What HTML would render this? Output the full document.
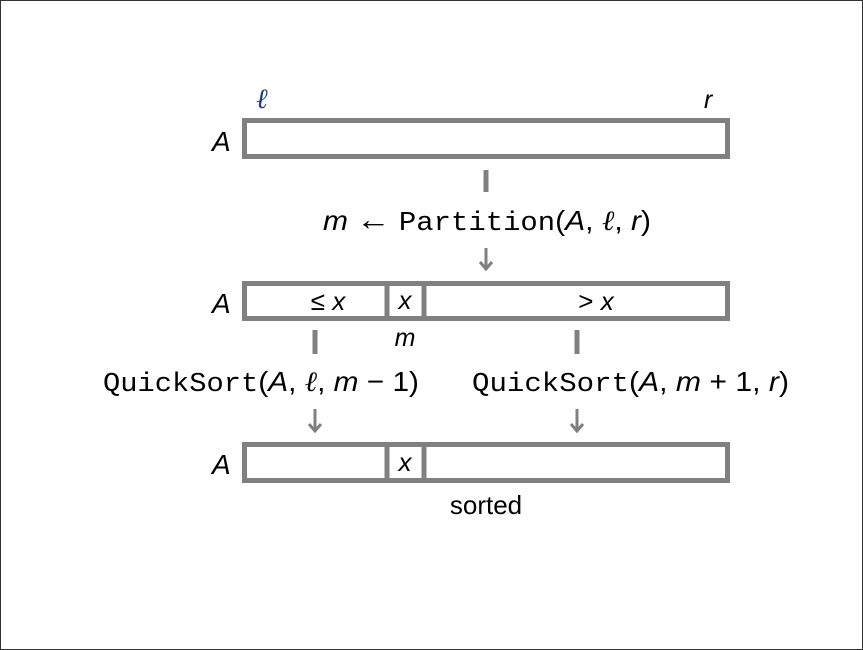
<!DOCTYPE html>
<html><head><style>
html,body{margin:0;padding:0;background:#fff;}
svg{display:block;}
text{font-family:"Liberation Sans",sans-serif;fill:#000;}
.it{font-style:italic;}
.mono{font-family:"Liberation Mono",monospace;}
.s{font-family:"Liberation Serif",serif;}
</style></head><body>
<svg width="863" height="650" viewBox="0 0 863 650">
<rect x="0.5" y="0.5" width="862" height="649" fill="#fff" stroke="#333" stroke-width="1"/>
<g fill="none" stroke="#808080" stroke-width="5">
<rect x="244.5" y="120.5" width="483" height="36"/>
<rect x="244.5" y="283.5" width="483" height="35"/>
<line x1="387" y1="283" x2="387" y2="319"/>
<line x1="424" y1="283" x2="424" y2="319"/>
<rect x="244.5" y="444.5" width="483" height="36"/>
<line x1="387" y1="444" x2="387" y2="481"/>
<line x1="424" y1="444" x2="424" y2="481"/>
<line x1="486" y1="170" x2="486" y2="192"/>
<line x1="315" y1="330" x2="315" y2="354"/>
<line x1="577" y1="330" x2="577" y2="354"/>
</g>
<g stroke="#808080" stroke-width="3" fill="none">
<line x1="486" y1="248" x2="486" y2="268"/>
<polyline points="480,262 486,269 492,262"/>
<line x1="315" y1="409" x2="315" y2="430"/>
<polyline points="309,424 315,431 321,424"/>
<line x1="577" y1="409" x2="577" y2="430"/>
<polyline points="571,424 577,431 583,424"/>
</g>
<text x="256" y="108" class="s it" font-size="28" style="fill:#1a3a8a">ℓ</text>
<text x="704" y="108" class="it" font-size="25">r</text>
<text x="212" y="151" class="it" font-size="28">A</text>
<text x="212" y="313" class="it" font-size="28">A</text>
<text x="212" y="474" class="it" font-size="28">A</text>
<text x="323" y="230" font-size="28" textLength="328" lengthAdjust="spacingAndGlyphs"><tspan class="it">m</tspan> <tspan font-size="32">←</tspan> <tspan class="mono" font-size="27">Partition</tspan>(<tspan class="it">A</tspan>, <tspan class="s it">ℓ</tspan>, <tspan class="it">r</tspan>)</text>
<text x="328" y="310" font-size="26" text-anchor="middle">≤ <tspan class="it">x</tspan></text>
<text x="405" y="309" font-size="26" text-anchor="middle" class="it">x</text>
<text x="596" y="310" font-size="26" text-anchor="middle">&gt; <tspan class="it">x</tspan></text>
<text x="405" y="346" font-size="25" text-anchor="middle" class="it">m</text>
<text x="103" y="391" font-size="28" textLength="316" lengthAdjust="spacingAndGlyphs"><tspan class="mono" font-size="27">QuickSort</tspan>(<tspan class="it">A</tspan>, <tspan class="s it">ℓ</tspan>, <tspan class="it">m</tspan> − 1)</text>
<text x="472" y="391" font-size="28" textLength="317" lengthAdjust="spacingAndGlyphs"><tspan class="mono" font-size="27">QuickSort</tspan>(<tspan class="it">A</tspan>, <tspan class="it">m</tspan> + 1, <tspan class="it">r</tspan>)</text>
<text x="405" y="471" font-size="26" text-anchor="middle" class="it">x</text>
<text x="486" y="514" font-size="26" text-anchor="middle">sorted</text>
</svg>
</body></html>
